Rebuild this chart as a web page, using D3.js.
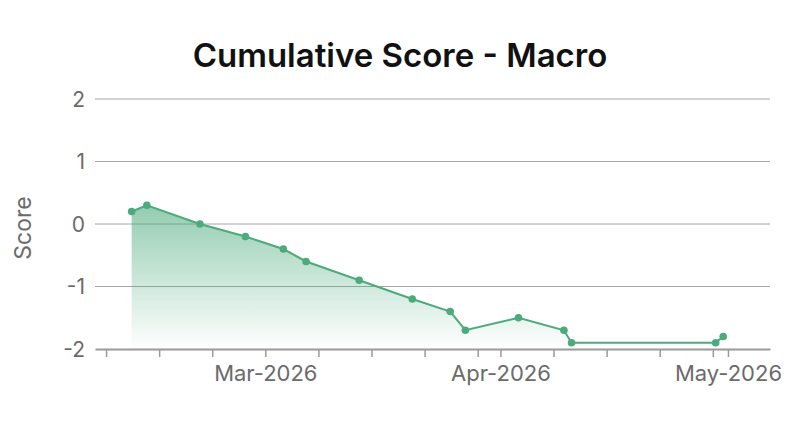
<!DOCTYPE html>
<html>
<head>
<meta charset="utf-8">
<script src="https://cdn.jsdelivr.net/npm/d3@7"></script>
<style>
  body { margin: 0; background: #fff; }
  svg { display: block; font-family: Inter, "Noto Sans", sans-serif; }
</style>
</head>
<body>
<svg id="vis-svg" width="800" height="431"></svg>
<script>
var width  = 800;
var height = 431;
var margin = {
  top: 99,
  bottom: 82,
  left: 95,
  right: 30
};

// data
const dates  = ["2026-02-11T09:00", "2026-02-13T09:00", "2026-02-20T09:00", "2026-02-26T09:00",
                "2026-03-03T09:00", "2026-03-06T09:00", "2026-03-13T09:00", "2026-03-20T09:00",
                "2026-03-25T09:00", "2026-03-27T09:00", "2026-04-03T09:00", "2026-04-09T09:00",
                "2026-04-10T09:00", "2026-04-29T09:00", "2026-04-30T09:00"];
const scores = [0.2, 0.3, 0, -0.2, -0.4, -0.6, -0.9, -1.2, -1.4, -1.7, -1.5, -1.7, -1.9, -1.9, -1.8];
const yTicks = [-2, -1, 0, 1, 2];
const xDomain = ["2026-02-06T13:00", "2026-05-06T13:00"];

const title = "Cumulative Score - Macro";
const yLabel = "Score";
const green = "#4caa7c";

const graphHeight = height - margin.top - margin.bottom;
const graphWidth = width - margin.left - margin.right;

const parse = d3.utcParse("%Y-%m-%dT%H:%M");
const data = dates.map((d, i) => ({date: parse(d), value: scores[i]}));

const svg = d3.select("#vis-svg");

const x = d3.scaleUtc()
    .domain(xDomain.map(parse))
    .range([0, graphWidth]);
const y = d3.scaleLinear()
    .domain([-2, 2])
    .range([graphHeight, 0]);

const graph = svg.append("g")
    .attr("transform", `translate(${margin.left},${margin.top})`);

// gradient under the line
const defs = svg.append("defs");
const grad = defs.append("linearGradient")
    .attr("id", "areaFill")
    .attr("x1", 0).attr("y1", 0).attr("x2", 0).attr("y2", 1);
grad.append("stop").attr("offset", "0%").attr("stop-color", green).attr("stop-opacity", 0.6);
grad.append("stop").attr("offset", "100%").attr("stop-color", green).attr("stop-opacity", 0);

// grid lines
graph.selectAll("line.grid")
  .data(yTicks.filter(t => t > -2))
  .enter()
  .append("line")
    .attr("class", "grid")
    .attr("x1", 0).attr("x2", graphWidth)
    .attr("y1", d => y(d)).attr("y2", d => y(d))
    .attr("stroke", "#a6a6a6")
    .attr("stroke-width", 1);

// y labels
graph.selectAll("text.ytick")
  .data(yTicks)
  .enter()
  .append("text")
    .attr("class", "ytick")
    .attr("x", -10)
    .attr("y", d => y(d))
    .attr("dy", "0.36em")
    .attr("text-anchor", "end")
    .attr("font-size", 21)
    .attr("fill", "#6b6b6b")
    .text(d => d);

// area + line
const area = d3.area()
    .x(d => x(d.date))
    .y0(graphHeight)
    .y1(d => y(d.value));
const line = d3.line()
    .x(d => x(d.date))
    .y(d => y(d.value));

graph.append("path")
    .datum(data)
    .attr("fill", "url(#areaFill)")
    .attr("d", area);

graph.append("path")
    .datum(data)
    .attr("fill", "none")
    .attr("stroke", green)
    .attr("stroke-width", 2)
    .attr("d", line);

graph.selectAll("circle")
  .data(data)
  .enter()
  .append("circle")
    .attr("cx", d => x(d.date))
    .attr("cy", d => y(d.value))
    .attr("r", 3.8)
    .attr("fill", green);

// x axis: ticks on days 1,8,15,22,29, labels only at month starts
const fmt = d3.utcFormat("%b-%Y");
const xAxis = d3.axisBottom(x)
    .ticks(d3.utcDay.every(7))
    .tickSize(8)
    .tickSizeOuter(0)
    .tickFormat(d => d.getUTCDate() === 1 ? fmt(d) : "");

const xg = graph.append("g")
    .attr("transform", `translate(0,${graphHeight})`)
    .call(xAxis);
xg.select(".domain").attr("stroke", "#9a9a9a").attr("stroke-width", 2);
xg.selectAll(".tick line").attr("stroke", "#9a9a9a").attr("stroke-width", 1.5);
xg.selectAll(".tick text")
    .attr("font-family", "Inter, sans-serif")
    .attr("font-size", 22)
    .attr("fill", "#6b6b6b")
    .attr("dy", "0.95em");

// titles
svg.append("text")
    .attr("x", width / 2)
    .attr("y", 67)
    .attr("text-anchor", "middle")
    .attr("font-size", 33)
    .attr("font-weight", 600)
    .attr("fill", "#111")
    .text(title);

svg.append("text")
    .attr("transform", `translate(31,${margin.top + graphHeight / 2 + 4}) rotate(-90)`)
    .attr("text-anchor", "middle")
    .attr("font-size", 23)
    .attr("fill", "#6b6b6b")
    .text(yLabel);
</script>
</body>
</html>
